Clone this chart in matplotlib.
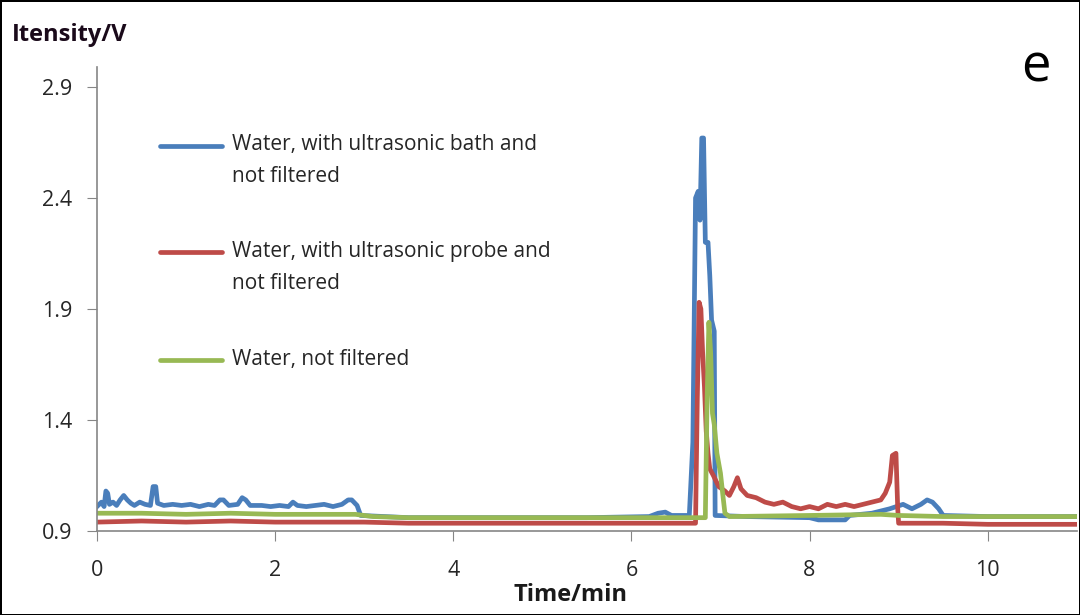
import matplotlib
matplotlib.use('Agg')
import matplotlib.pyplot as plt

# blue: water, ultrasonic bath, not filtered
bath_t = [0.00, 0.05, 0.08, 0.10, 0.12, 0.14, 0.18, 0.22, 0.26, 0.30, 0.34, 0.38,
          0.42, 0.48, 0.54, 0.60, 0.63, 0.66, 0.68, 0.75, 0.85, 0.95, 1.05, 1.15,
          1.25, 1.32, 1.38, 1.42, 1.48, 1.58, 1.63, 1.67, 1.72, 1.85, 1.95, 2.05,
          2.15, 2.20, 2.25, 2.35, 2.45, 2.55, 2.65, 2.75, 2.82, 2.86, 2.92, 2.96,
          3.5, 4.5, 5.5, 6.2, 6.3, 6.38, 6.45, 6.65, 6.69, 6.72, 6.75, 6.77, 6.79,
          6.81, 6.83, 6.86, 6.88, 6.90, 6.93, 6.94, 7.3, 8.0, 8.1, 8.4, 8.45, 8.7,
          8.9, 9.05, 9.15, 9.25, 9.32, 9.38, 9.45, 9.5, 10.0, 11.0]
bath_v = [1.01, 1.03, 1.01, 1.08, 1.07, 1.02, 1.03, 1.015, 1.04, 1.06, 1.04, 1.025,
          1.015, 1.03, 1.02, 1.015, 1.10, 1.10, 1.025, 1.015, 1.02, 1.015, 1.02, 1.01,
          1.02, 1.015, 1.04, 1.04, 1.015, 1.02, 1.05, 1.04, 1.015, 1.015, 1.01, 1.015,
          1.01, 1.03, 1.015, 1.01, 1.015, 1.02, 1.01, 1.02, 1.04, 1.04, 1.015, 0.97,
          0.96, 0.96, 0.96, 0.965, 0.98, 0.985, 0.97, 0.97, 1.30, 2.40, 2.43, 2.30,
          2.67, 2.67, 2.20, 2.20, 2.05, 1.85, 1.80, 0.97, 0.965, 0.96, 0.95, 0.95,
          0.97, 0.98, 1.00, 1.02, 1.00, 1.02, 1.04, 1.03, 1.00, 0.97, 0.965, 0.965]

# red: water, ultrasonic probe, not filtered
probe_t = [0.0, 0.5, 1.0, 1.5, 2.0, 2.5, 3.0, 3.5, 4.0, 4.5, 5.0, 5.5, 6.0, 6.5,
           6.72, 6.74, 6.76, 6.78, 6.80, 6.82, 6.84, 6.86, 6.88, 6.92, 6.98, 7.05,
           7.10, 7.15, 7.19, 7.23, 7.30, 7.40, 7.50, 7.60, 7.70, 7.80, 7.90, 8.00,
           8.10, 8.20, 8.30, 8.40, 8.50, 8.60, 8.70, 8.80, 8.85, 8.90, 8.93, 8.97,
           8.99, 9.00, 9.5, 10.0, 10.5, 11.0]
probe_v = [0.94, 0.945, 0.94, 0.945, 0.94, 0.94, 0.94, 0.935, 0.935, 0.935, 0.935,
           0.935, 0.935, 0.935, 0.935, 1.50, 1.93, 1.90, 1.70, 1.55, 1.35, 1.25,
           1.18, 1.15, 1.10, 1.08, 1.06, 1.10, 1.14, 1.09, 1.06, 1.05, 1.03, 1.02,
           1.03, 1.01, 1.00, 1.01, 1.00, 1.02, 1.01, 1.02, 1.01, 1.02, 1.03, 1.04,
           1.07, 1.12, 1.24, 1.25, 1.00, 0.935, 0.935, 0.93, 0.93, 0.93]

# green: water, not filtered
plain_t = [0.0, 0.5, 1.0, 1.5, 2.0, 2.5, 2.9, 3.1, 3.5, 4.0, 5.0, 6.0, 6.5, 6.83,
           6.85, 6.87, 6.89, 6.91, 6.93, 6.96, 7.00, 7.03, 7.05, 7.10, 8.0, 8.8,
           9.0, 9.5, 10.0, 11.0]
plain_v = [0.98, 0.98, 0.975, 0.98, 0.975, 0.975, 0.975, 0.965, 0.96, 0.96, 0.96,
           0.96, 0.96, 0.96, 1.50, 1.84, 1.70, 1.43, 1.38, 1.25, 1.16, 1.05, 0.98,
           0.965, 0.97, 0.975, 0.97, 0.965, 0.965, 0.965]

labels = ['Water, with ultrasonic bath and\nnot filtered',
          'Water, with ultrasonic probe and\nnot filtered',
          'Water, not filtered']
colors = ['#4A7EBB', '#BE4B48', '#98B954']
x_ticks = [0, 2, 4, 6, 8, 10]
y_ticks = [0.9, 1.4, 1.9, 2.4, 2.9]

plt.rcParams['font.family'] = ['Open Sans', 'DejaVu Sans']

fig = plt.figure(figsize=(10.8, 6.15), dpi=100)
fig.patch.set_edgecolor('black')
fig.patch.set_linewidth(2)
ax = fig.add_axes([0.0898, 0.1366, 0.9072, 0.7545])

series = [(bath_t, bath_v), (probe_t, probe_v), (plain_t, plain_v)]
for (t, v), c in zip(series, colors):
    ax.plot(t, v, color=c, linewidth=3.4, solid_joinstyle='round')

ax.set_xlim(0, 11.0)
ax.set_ylim(0.9, 2.99)
ax.set_xticks(x_ticks)
ax.set_yticks(y_ticks)
ax.set_yticklabels([f'{y:.1f}' for y in y_ticks])
ax.tick_params(axis='both', labelsize=15.5, color='#868686', length=7,
               labelcolor='#262626')
ax.tick_params(axis='y', pad=11)
ax.tick_params(axis='x', pad=14)
for side in ['top', 'right']:
    ax.spines[side].set_visible(False)
for side in ['left', 'bottom']:
    ax.spines[side].set_color('#868686')
    ax.spines[side].set_linewidth(1.2)

# hand-placed legend: handle sits on the first text line
legend_y = [0.830, 0.601, 0.368]
for lab, c, yy in zip(labels, colors, legend_y):
    ax.plot([0.064, 0.128], [yy, yy], transform=ax.transAxes, color=c,
            linewidth=3.4, solid_capstyle='round')
    ax.text(0.138, yy + 0.025, lab, transform=ax.transAxes, fontsize=15,
            color='#262626', va='top', linespacing=1.7)

fig.text(0.011, 0.943, 'Itensity/V', fontsize=17, fontweight='bold',
         color='#1a0a1a', va='center')
fig.text(0.528, 0.033, 'Time/min', fontsize=17, fontweight='bold',
         color='#1a1a1a', ha='center', va='center')
fig.text(0.959, 0.89, 'e', fontsize=38, color='black', ha='center',
         va='center')

fig.savefig('out.png', dpi=100)
